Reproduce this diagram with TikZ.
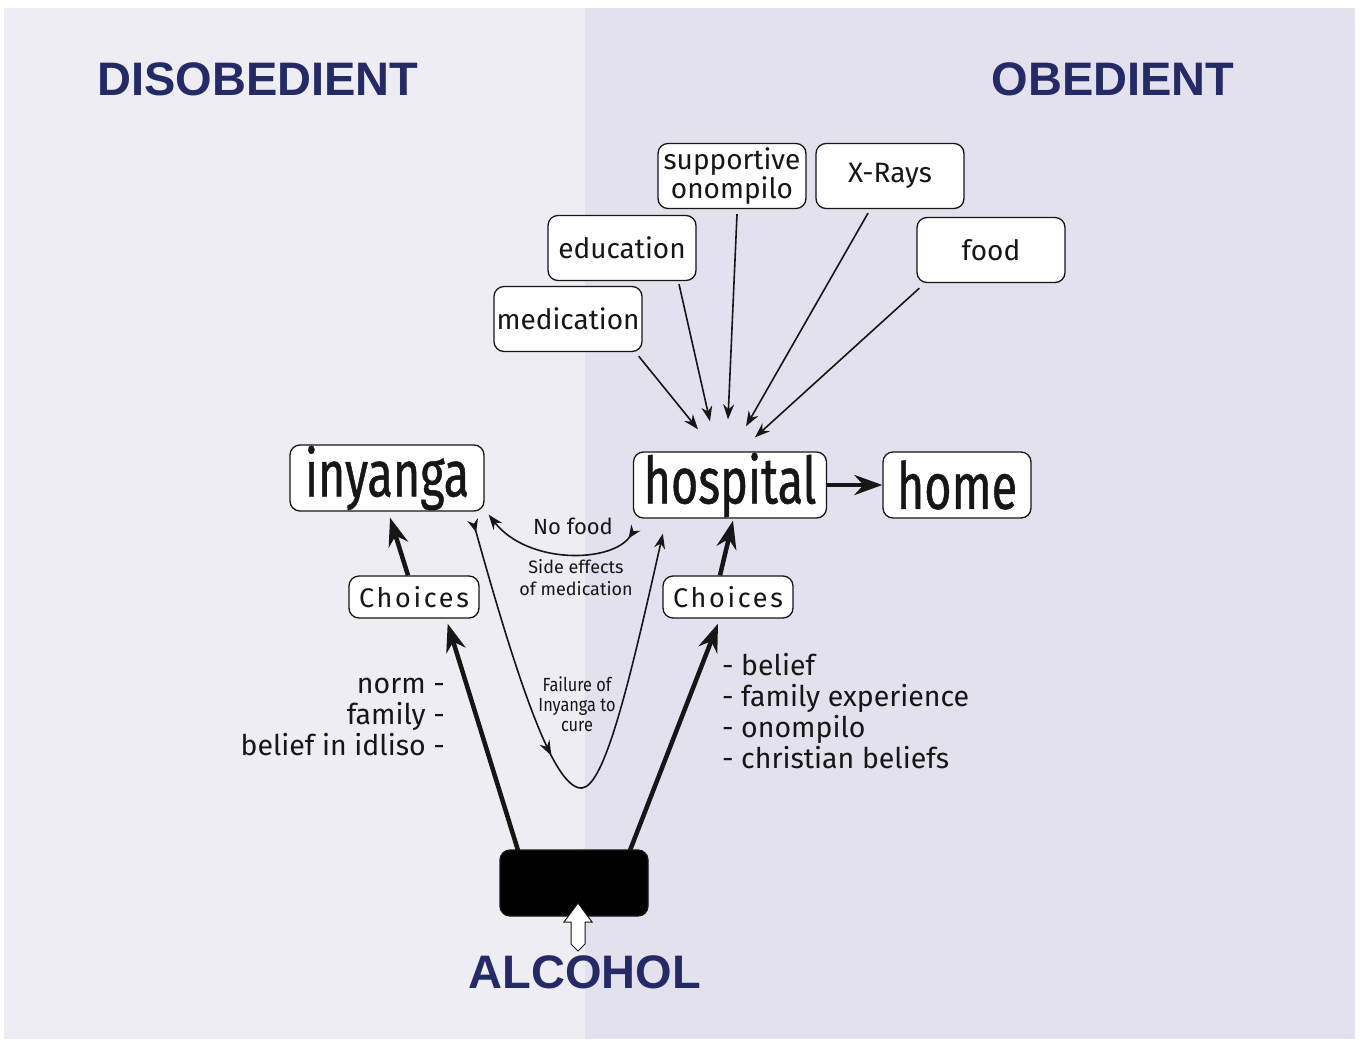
\documentclass[tikz,border=0pt]{standalone}
\usepackage{fontspec}
\setmainfont{Fira Sans}
\newfontfamily\headfont{Liberation Sans}
\newfontfamily\bigfont[FakeStretch=0.72,FakeBold=0.7]{Fira Sans}
\newfontfamily\condfont[FakeStretch=0.86]{Fira Sans}
\newfontfamily\spacedfont[LetterSpace=10]{Fira Sans}
\usetikzlibrary{arrows.meta,calc,decorations.markings}
\definecolor{navy}{RGB}{36,42,102}
\definecolor{leftbg}{RGB}{238,237,243}
\definecolor{rightbg}{RGB}{227,225,238}
\definecolor{ink}{RGB}{22,22,22}

\begin{document}
\begin{tikzpicture}[x=1pt,y=-1pt,
    box/.style={draw=ink,line width=1.3pt,fill=white,rounded corners=10pt,inner sep=0pt,text=ink},
    bigbox/.style={box,minimum height=66pt,font=\bigfont\fontsize{65}{65}\selectfont},
    smallbox/.style={box,minimum width=148pt,minimum height=65pt,align=center,font=\fontsize{28}{25}\selectfont},
    choicebox/.style={box,minimum width=130pt,minimum height=42pt,font=\spacedfont\fontsize{27}{27}\selectfont},
    heading/.style={text=navy,inner sep=0pt,font=\headfont\bfseries\fontsize{47}{47}\selectfont},
    listtext/.style={text=ink,inner sep=0pt,font=\fontsize{28.5}{30.8}\selectfont},
    note/.style={text=ink,inner sep=0pt,align=center},
    thinarrow/.style={draw=ink,line width=1.6pt,-{Stealth[length=15pt,width=11pt]}},
    fatarrow/.style={draw=ink,line width=4.5pt,-{Stealth[length=28pt,width=20pt]}},
    tailarrow/.style={draw=ink,line width=1.6pt,{Stealth[reversed,length=13pt,width=11pt]}-{Stealth[length=15pt,width=11pt]}},
    midarrow/.style={postaction={decorate},decoration={markings,
      mark=at position #1 with {\arrow{Stealth[length=15pt,width=11pt]}}}}
  ]
    \useasboundingbox (0,0) rectangle (1363,1039);
    \fill[white] (0,0) rectangle (1363,1039);
    \fill[leftbg] (4,8) rectangle (585,1039);
    \fill[rightbg] (585,8) rectangle (1355,1039);

    \node[heading] (dis) at (258,79) {DISOBEDIENT};
    \node[heading] (obe) at (1113,79) {OBEDIENT};
    \node[heading] (alcohol) at (585,972) {ALCOHOL};

    \node[bigbox,minimum width=194pt] (inyanga) at (387,478) {inyanga};
    \node[bigbox,minimum width=193pt] (hospital) at (730,485) {hospital};
    \node[bigbox,minimum width=148pt] (home) at (957,485) {home};

    \node[choicebox] (choiL) at (414,597) {Choices};
    \node[choicebox] (choiR) at (728,597) {Choices};

    \node[smallbox] (med) at (568,319) {medication};
    \node[smallbox] (edu) at (622,248) {education};
    \node[smallbox] (supp) at (732,176) {supportive\\onompilo};
    \node[smallbox] (xray) at (890,176) {X-Rays};
    \node[smallbox] (food) at (991,250) {food};

    \node[box,fill=black,minimum width=148pt,minimum height=66pt] (alc) at (574,883) {};

    \node[note,font=\fontsize{22}{22}\selectfont] (nofood) at (573,526) {No food};
    \node[note,font=\fontsize{18}{22}\selectfont] (side) at (576,578) {Side effects\\of medication};
    \node[note,font=\condfont\fontsize{19}{20}\selectfont] (fail) at (577,704) {Failure of\\Inyanga to\\cure};

    \node[listtext,anchor=east,align=right] (why) at (445,717) {norm -\\family -\\belief in idliso -};
    \node[listtext,anchor=west,align=left] (because) at (722,711) {- belief\\- family experience\\- onompilo\\- christian beliefs};

    \draw[fatarrow] (hospital) -- (home);

    \draw[thinarrow] ($(med.south east)+(-4,4)$) -- ($(hospital.north)+(-32,-22)$);
    \draw[thinarrow] ($(edu.south)+(57,3)$) -- ($(hospital.north)+(-20,-30)$);
    \draw[thinarrow] ($(supp.south)+(5,5)$) -- ($(hospital.north)+(-2,-32)$);
    \draw[thinarrow] ($(xray.south)+(-22,4)$) -- ($(hospital.north)+(16,-25)$);
    \draw[thinarrow] ($(food.south west)+(3,5)$) -- ($(hospital.north)+(25,-14)$);

    \draw[fatarrow] ($(choiL.north)+(-6,0)$) -- ($(inyanga.south)+(3,6)$);
    \draw[fatarrow] ($(choiR.north)+(-8,0)$) -- ($(hospital.south)+(3,2)$);
    \draw[fatarrow] ($(alc.north)+(-56,1)$) -- ($(choiL.south east)+(-32,5)$);
    \draw[fatarrow] ($(alc.north)+(56,1)$) -- ($(choiR.south)+(-10,5)$);

    \draw[tailarrow] ($(hospital.south west)+(3,9)$) .. controls (612,563) and (528,565) .. ($(inyanga.south east)+(4,3)$);
    \draw[tailarrow,midarrow=0.44] ($(inyanga.south east)+(-12,8)$) .. controls (520,690) and (555,790) .. (582,788)
      .. controls (605,786) and (630,680) .. ($(hospital.south west)+(30,15)$);

    \filldraw[fill=white,draw=ink,line width=1pt] (578,903) -- (592,922) -- (585,922) -- (585,944)
      -- (578,951) -- (571,944) -- (571,922) -- (564,922) -- cycle;
\end{tikzpicture}
\end{document}
